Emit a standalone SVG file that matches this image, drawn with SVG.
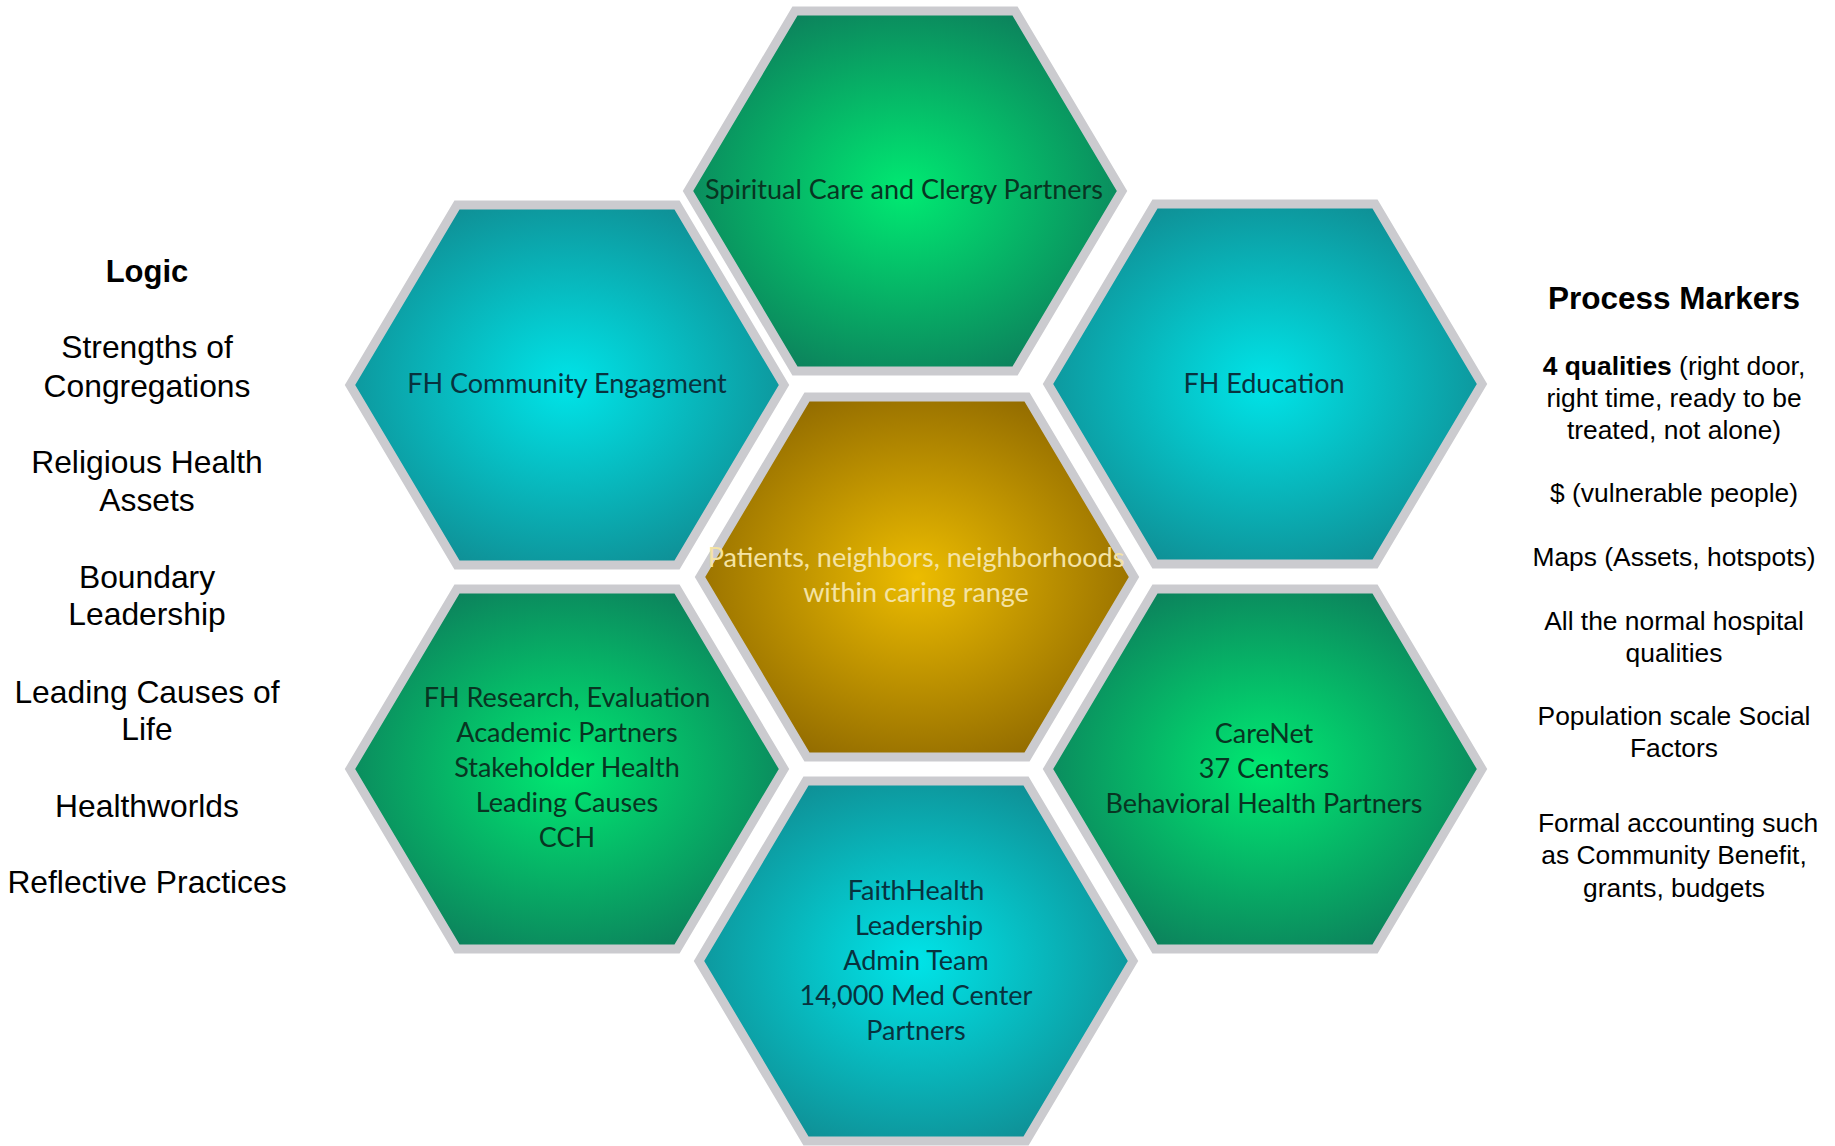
<svg xmlns="http://www.w3.org/2000/svg" xmlns:xlink="http://www.w3.org/1999/xlink" width="1835" height="1146" viewBox="0 0 1835 1146">
<style>
.hex{stroke:#cbcbcf;stroke-width:9;stroke-linejoin:miter}
.ht{font-family:Lato,"Open Sans",sans-serif;font-size:27px;text-anchor:middle}
.tg{fill:#083522}
.tt{fill:#08323e}
.tc{fill:#f4e3a4}
.side{font-family:"Liberation Sans",Arial,sans-serif;text-anchor:middle;fill:#000}
.l{font-size:31.8px}
.r{font-size:26.4px}
.b{font-weight:bold}
</style>
<defs>
<path id="hexshape" d="M -217 0 L -110 -180 L 110 -180 L 217 0 L 110 180 L -110 180 Z"/>
<radialGradient id="gTeal" cx="50%" cy="50%" r="55%">
<stop offset="0" stop-color="#00e4e8"/>
<stop offset="1" stop-color="#0f9096"/>
</radialGradient>
<radialGradient id="gGreen" cx="50%" cy="50%" r="55%">
<stop offset="0" stop-color="#00ea72"/>
<stop offset="1" stop-color="#0c825c"/>
</radialGradient>
<radialGradient id="gGold" cx="50%" cy="50%" r="55%">
<stop offset="0" stop-color="#ecbc00"/>
<stop offset="1" stop-color="#936c00"/>
</radialGradient>
</defs>
<rect width="1835" height="1146" fill="#fff"/>
<g id="connectors"/>
<g id="node-spiritual">
<use xlink:href="#hexshape" class="hex" fill="url(#gGreen)" transform="translate(905,191)"/>
<text class="ht tg" x="904" y="199">Spiritual Care and Clergy Partners</text>
</g>
<g id="node-community">
<use xlink:href="#hexshape" class="hex" fill="url(#gTeal)" transform="translate(567,385)"/>
<text class="ht tt" x="567" y="393">FH Community Engagment</text>
</g>
<g id="node-education">
<use xlink:href="#hexshape" class="hex" fill="url(#gTeal)" transform="translate(1265,384)"/>
<text class="ht tt" x="1264" y="393">FH Education</text>
</g>
<g id="node-patients">
<use xlink:href="#hexshape" class="hex" fill="url(#gGold)" transform="translate(917,577)"/>
<text class="ht tc" x="916" y="567">Patients, neighbors, neighborhoods</text>
<text class="ht tc" x="916" y="602">within caring range</text>
</g>
<g id="node-research">
<use xlink:href="#hexshape" class="hex" fill="url(#gGreen)" transform="translate(567,769)"/>
<text class="ht tg" x="567" y="707">FH Research, Evaluation</text>
<text class="ht tg" x="567" y="742">Academic Partners</text>
<text class="ht tg" x="567" y="777">Stakeholder Health</text>
<text class="ht tg" x="567" y="812">Leading Causes</text>
<text class="ht tg" x="567" y="847">CCH</text>
</g>
<g id="node-carenet">
<use xlink:href="#hexshape" class="hex" fill="url(#gGreen)" transform="translate(1265,769)"/>
<text class="ht tg" x="1264" y="743">CareNet</text>
<text class="ht tg" x="1264" y="778">37 Centers</text>
<text class="ht tg" x="1264" y="813">Behavioral Health Partners</text>
</g>
<g id="node-faithhealth">
<use xlink:href="#hexshape" class="hex" fill="url(#gTeal)" transform="translate(916,961)"/>
<text class="ht tt" x="916" y="900">FaithHealth</text>
<text class="ht tt" x="919" y="935">Leadership</text>
<text class="ht tt" x="916" y="970">Admin Team</text>
<text class="ht tt" x="916" y="1005">14,000 Med Center</text>
<text class="ht tt" x="916" y="1040">Partners</text>
</g>
<g id="logic">
<text class="side b" style="font-size:31px" x="147" y="282">Logic</text>
<text class="side l" x="147" y="358">Strengths of</text>
<text class="side l" x="147" y="397">Congregations</text>
<text class="side l" x="147" y="473">Religious Health</text>
<text class="side l" x="147" y="511">Assets</text>
<text class="side l" x="147" y="588">Boundary</text>
<text class="side l" x="147" y="625">Leadership</text>
<text class="side l" x="147" y="703">Leading Causes of</text>
<text class="side l" x="147" y="740">Life</text>
<text class="side l" x="147" y="817">Healthworlds</text>
<text class="side l" x="147" y="893">Reflective Practices</text>
</g>
<g id="process-markers">
<text class="side b" style="font-size:31.5px" x="1674" y="309">Process Markers</text>
<text class="side r" x="1674" y="375"><tspan font-weight="bold">4 qualities</tspan> (right door,</text>
<text class="side r" x="1674" y="407">right time, ready to be</text>
<text class="side r" x="1674" y="439">treated, not alone)</text>
<text class="side r" x="1674" y="502">$ (vulnerable people)</text>
<text class="side r" x="1674" y="566">Maps (Assets, hotspots)</text>
<text class="side r" x="1674" y="630">All the normal hospital</text>
<text class="side r" x="1674" y="662">qualities</text>
<text class="side r" x="1674" y="725">Population scale Social</text>
<text class="side r" x="1674" y="757">Factors</text>
<text class="side r" x="1678" y="832">Formal accounting such</text>
<text class="side r" x="1674" y="864">as Community Benefit,</text>
<text class="side r" x="1674" y="897">grants, budgets</text>
</g>
</svg>
